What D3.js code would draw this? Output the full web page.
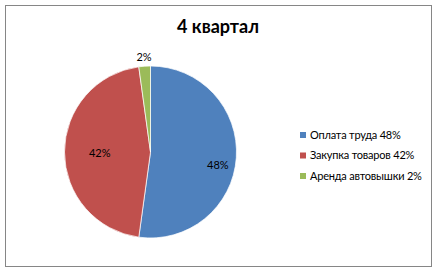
<!DOCTYPE html>
<html>
<head>
<meta charset="utf-8">
<script src="https://cdn.jsdelivr.net/npm/d3@7"></script>
<style>
  body { margin: 0; background: #fff; }
  text { font-family: Lato, "Open Sans", sans-serif; }
</style>
</head>
<body>
<div class="pie"></div>
<script>
// data
const categories = ["Оплата труда 48%", "Закупка товаров 42%", "Аренда автовышки 2%"]
const values = [48, 42, 2]
const sliceLabels = ["48%", "42%", "2%"]
const colours = ["#4F81BD", "#C0504D", "#9BBB59"]

const svg = d3.select(".pie").append("svg").attr("width", 435).attr("height", 270)

// frame
svg.append("rect").attr("x", 5.5).attr("y", 5.5).attr("width", 426).attr("height", 261)
   .attr("fill", "white").attr("stroke", "#868686").attr("stroke-width", 1)

// title
svg.append("text").attr("x", 218).attr("y", 33).attr("text-anchor", "middle")
   .attr("font-size", 18).attr("font-weight", "bold").attr("fill", "black").text("4 квартал")

const data = categories.map((c, i) => ({name: c, value: values[i], label: sliceLabels[i]}))
const colourScale = d3.scaleOrdinal().domain(categories).range(colours)
const radius = 86
const arcPath = d3.arc().outerRadius(radius).innerRadius(0)
const pie = d3.pie().sort(null).value(d => d.value)

const pieCanvas = svg.append("g").attr("transform", "translate(150.5,152)")
const angles = pie(data)
pieCanvas.selectAll("path").data(angles).enter().append("path")
   .attr("d", arcPath).attr("fill", d => colourScale(d.data.name))
   .attr("stroke", "white").attr("stroke-width", 0.7)

// slice labels (excel "best fit" style placement)
const labelRadius = [0.785, 0.59, 1.107]
const labelShift = [8.5, 1, 0]
pieCanvas.selectAll(".lbl").data(angles).enter().append("text")
   .attr("class", "lbl")
   .attr("transform", (d, i) => {
      const r = radius * labelRadius[i]
      const p = d3.arc().innerRadius(r).outerRadius(r).centroid(d)
      return `translate(${p[0]},${p[1] + labelShift[i]})`
   })
   .attr("text-anchor", "middle").attr("dy", "0.35em")
   .attr("font-size", 11).attr("fill", "black").text(d => d.data.label)

// legend
const legend = svg.selectAll(".legend").data(categories).enter().append("g")
   .attr("class", "legend").attr("transform", (d, i) => `translate(300,${135 + i * 20.5})`)
legend.append("rect").attr("x", 0).attr("y", -3).attr("width", 6).attr("height", 6)
   .attr("fill", colourScale)
legend.append("text").attr("x", 10).attr("y", 0).attr("dy", "0.35em")
   .attr("font-size", 11).attr("fill", "black").attr("letter-spacing", -0.2).text(d => d)
</script>
</body>
</html>
